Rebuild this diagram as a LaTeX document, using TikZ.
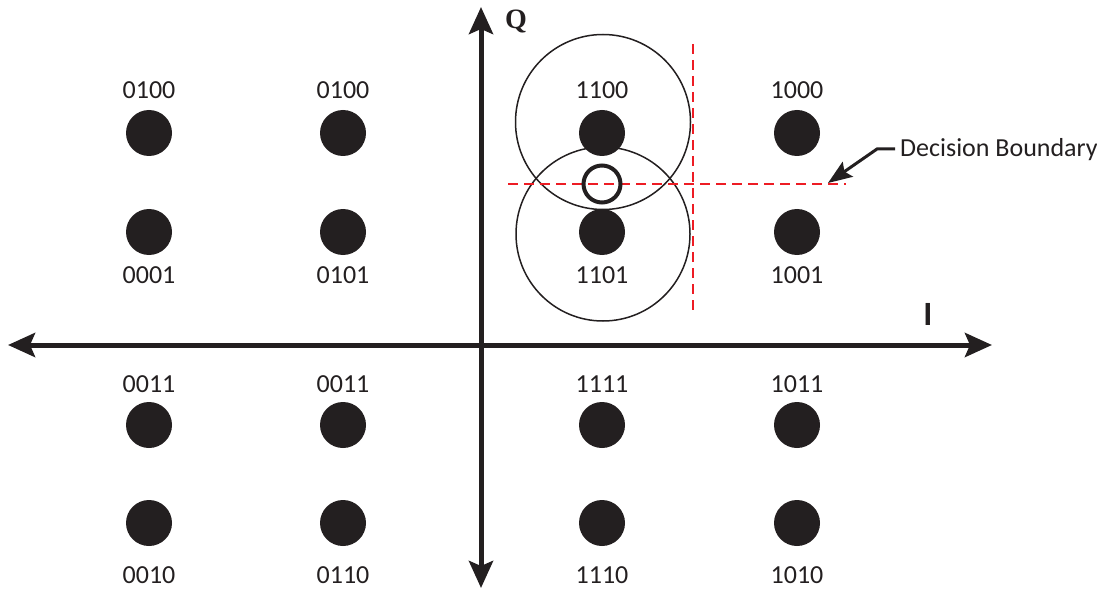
\documentclass[tikz,border=0pt]{standalone}
\usepackage{fontspec}
\setmainfont{Carlito}
\newfontfamily\qfont{Liberation Serif}
\usetikzlibrary{arrows.meta}
\definecolor{ink}{HTML}{231F20}
\definecolor{bred}{HTML}{ED1C24}
\begin{document}
\begin{tikzpicture}[x=1pt,y=-1pt,
  dot/.style={circle,fill=ink,minimum size=46pt,inner sep=0pt},
  lbl/.style={font=\fontsize{26}{28}\selectfont,text=ink,inner sep=0pt},
  axis/.style={line width=5pt,draw=ink},
  bigtip/.tip={Stealth[length=27pt,width=24pt,inset=5pt]},
  ring/.style={circle,draw=ink,line width=1.5pt,inner sep=0pt},
  bound/.style={draw=bred,line width=2pt,dash pattern=on 10pt off 6pt}]
\useasboundingbox (0,0) rectangle (1097,596);
% axes
\coordinate (qtop) at (481,7);
\coordinate (qbot) at (481,588);
\coordinate (ileft) at (8,345);
\coordinate (iright) at (992,345);
\draw[axis,{bigtip}-{bigtip}] (qbot) -- (qtop);
\draw[axis,{bigtip}-{bigtip}] (ileft) -- (iright);
\node[font=\qfont\bfseries\fontsize{28}{30}\selectfont,text=ink,inner sep=0pt] (qlab) at (516,22) {Q};
\node[font=\bfseries\fontsize{34}{36}\selectfont,text=ink,inner sep=0pt] (ilab) at (928,314) {I};
% decision circles
\node[ring,minimum size=175pt] (cup) at (603,122) {};
\node[ring,minimum size=174pt] (cdn) at (603,234) {};
% boundaries
\coordinate (hb1) at (508,184);
\coordinate (hb2) at (846,184);
\coordinate (vb1) at (693,44);
\coordinate (vb2) at (693,311);
\draw[bound] (hb1) -- (hb2);
\draw[bound] (vb1) -- (vb2);
% dots
\foreach \x/\cn in {149/a,343/b,602/c,797/d}{
  \foreach \y/\rn in {133/1,232/2,425/3,523/4}{
    \node[dot] (\cn\rn) at (\x,\y) {};
  }
}
% received point
\node[circle,draw=ink,line width=4pt,minimum size=37pt,inner sep=0pt] (rx) at (602,184) {};
% labels
\node[lbl] (la1) at (149,90) {0100};
\node[lbl] (lb1) at (343,90) {0100};
\node[lbl] (lc1) at (602,90) {1100};
\node[lbl] (ld1) at (797,90) {1000};
\node[lbl] (la2) at (149,275) {0001};
\node[lbl] (lb2) at (343,275) {0101};
\node[lbl] (lc2) at (602,275) {1101};
\node[lbl] (ld2) at (797,275) {1001};
\node[lbl] (la3) at (149,384) {0011};
\node[lbl] (lb3) at (343,384) {0011};
\node[lbl] (lc3) at (602,384) {1111};
\node[lbl] (ld3) at (797,384) {1011};
\node[lbl] (la4) at (149,575) {0010};
\node[lbl] (lb4) at (343,575) {0110};
\node[lbl] (lc4) at (602,575) {1110};
\node[lbl] (ld4) at (797,575) {1010};
% decision boundary callout
\node[lbl,anchor=base west] (db) at (900,157) {Decision Boundary};
\coordinate (dbstart) at (895,149);
\coordinate (dbknee) at (877,149);
\coordinate (dbtip) at (828,183);
\draw[draw=ink,line width=3pt,-{Stealth[length=24pt,width=18pt,inset=4pt]}] (dbstart) -- (dbknee) -- (dbtip);
\end{tikzpicture}
\end{document}
